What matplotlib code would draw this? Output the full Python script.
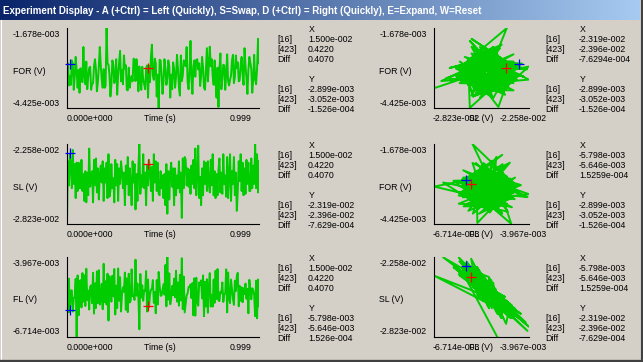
import numpy as np
from matplotlib import pyplot as plt
from matplotlib.colors import LinearSegmentedColormap

W, H = 643, 362
FS = 6.3
FONT = 'Liberation Sans'
GREEN = '#00cc00'

# channel samples (FOR and FL in 1e-5 V, SL in 1e-4 V)
FOR_RAW = [
    -374, -289, -365, -333, -363, -279, -290, -380, -336, -267,
    -314, -373, -312, -390, -306, -341, -354, -233, -331, -361,
    -283, -378, -336, -305, -301, -380, -361, -357, -299, -275,
    -309, -385, -354, -299, -233, -296, -346, -373, -309, -373,
    -367, -168, -289, -294, -328, -403, -363, -279, -293, -357,
    -341, -275, -397, -331, -286, -246, -351, -311, -361, -262,
    -307, -296, -380, -382, -304, -373, -346, -333, -351, -273,
    -277, -350, -275, -309, -385, -300, -344, -380, -301, -346,
    -361, -378, -307, -296, -407, -299, -354, -267, -225, -331,
    -346, -273, -289, -403, -328, -442, -277, -279, -329, -394,
    -351, -275, -307, -363, -340, -279, -299, -407, -328, -378,
    -286, -307, -373, -336, -260, -306, -373, -400, -262, -350,
    -331, -279, -283, -299, -233, -354, -378, -315, -212, -344,
    -394, -299, -279, -335, -277, -275, -310, -289, -367, -333,
    -267, -304, -373, -380, -312, -237, -351, -296, -232, -299,
    -275, -333, -363, -279, -351, -407, -304, -439, -309, -255,
    -378, -344, -294, -296, -380, -328, -258, -351, -365, -346,
    -331, -279, -260, -357, -336, -262, -305, -286, -351, -347,
    -294, -267, -328, -363, -237, -296, -341, -394, -312, -267,
    -286, -309, -390, -344, -260, -345, -361, -307, -205, -289,
]
SL_RAW = [
    -282, -238, -255, -233, -240, -257, -230, -254, -240, -264,
    -239, -259, -239, -257, -257, -237, -259, -247, -266, -245,
    -267, -246, -262, -229, -256, -248, -245, -267, -237, -255,
    -236, -260, -243, -265, -247, -241, -253, -238, -266, -243,
    -253, -239, -264, -233, -263, -259, -240, -257, -250, -267,
    -237, -255, -240, -266, -243, -254, -238, -245, -257, -246,
    -269, -241, -254, -235, -262, -243, -253, -269, -238, -253,
    -240, -272, -247, -266, -242, -226, -261, -248, -256, -233,
    -257, -246, -269, -241, -255, -237, -243, -259, -242, -266,
    -233, -253, -238, -259, -239, -261, -262, -245, -257, -248,
    -264, -247, -269, -240, -275, -245, -265, -247, -239, -256,
    -243, -269, -243, -262, -248, -257, -238, -260, -246, -278,
    -236, -257, -235, -237, -255, -243, -256, -244, -261, -241,
    -254, -237, -257, -229, -262, -247, -227, -264, -249, -269,
    -243, -262, -238, -254, -239, -259, -238, -254, -260, -237,
    -255, -233, -262, -245, -264, -247, -262, -244, -236, -260,
    -246, -261, -233, -254, -248, -263, -235, -264, -247, -233,
    -266, -245, -254, -235, -262, -246, -273, -259, -238, -252,
    -233, -259, -239, -262, -243, -261, -237, -254, -239, -259,
    -259, -236, -257, -241, -254, -226, -257, -233, -260, -238,
]
FL_RAW = [
    -489, -586, -471, -586, -512, -511, -584, -538, -534, -472,
    -671, -460, -597, -485, -476, -570, -452, -550, -460, -565,
    -437, -544, -512, -577, -498, -494, -555, -451, -591, -487,
    -572, -446, -555, -442, -560, -543, -489, -576, -420, -552,
    -480, -560, -454, -615, -463, -510, -550, -461, -532, -438,
    -594, -495, -572, -436, -547, -466, -584, -525, -501, -516,
    -450, -578, -470, -586, -454, -553, -546, -439, -532, -528,
    -544, -406, -530, -488, -532, -645, -455, -536, -494, -547,
    -511, -514, -445, -584, -474, -569, -528, -509, -506, -476,
    -554, -517, -590, -476, -560, -448, -494, -530, -529, -510,
    -490, -526, -424, -566, -397, -543, -453, -559, -537, -496,
    -528, -471, -535, -444, -550, -484, -564, -458, -546, -401,
    -576, -464, -587, -559, -528, -522, -500, -500, -491, -538,
    -486, -597, -470, -598, -468, -549, -564, -484, -493, -477,
    -539, -460, -600, -482, -567, -473, -588, -498, -452, -567,
    -527, -567, -474, -554, -444, -541, -438, -546, -548, -516,
    -520, -484, -551, -526, -520, -439, -587, -450, -538, -555,
    -474, -507, -540, -561, -478, -514, -463, -451, -566, -496,
    -547, -501, -552, -504, -524, -488, -540, -506, -590, -475,
    -506, -542, -504, -510, -528, -600, -478, -607, -474, -566,
]

# axis end labels (these are also the axis limits)
FOR_TICKS = ['-1.678e-003', '-4.425e-003']
SL_TICKS = ['-2.258e-002', '-2.823e-002']
FL_TICKS = ['-3.967e-003', '-6.714e-003']
T_TICKS = ['0.000e+000', '0.999']

# cursor samples [16] and [423]
CUR_T = [0.015, 0.422]
FOR_CUR = [-2.899e-3, -3.052e-3]
SL_CUR = [-2.319e-2, -2.396e-2]
FL_CUR = [-5.798e-3, -5.646e-3]

# readout texts
TIME_INFO = ['1.500e-002', '0.4220', '0.4070']
FOR_INFO = ['-2.899e-003', '-3.052e-003', '-1.526e-004']
SL_INFO = ['-2.319e-002', '-2.396e-002', '-7.629e-004']
FL_INFO = ['-5.798e-003', '-5.646e-003', '1.526e-004']
SL_XINFO = ['-2.319e-002', '-2.396e-002', '-7.6294e-004']
FL_XINFO = ['-5.798e-003', '-5.646e-003', '1.5259e-004']

TITLE = 'Experiment Display - A (+Ctrl) = Left (Quickly), S=Swap, D (+Ctrl) = Right (Quickly), E=Expand, W=Reset'

for_v = np.array(FOR_RAW) * 1e-5
sl_v = np.array(SL_RAW) * 1e-4
fl_v = np.array(FL_RAW) * 1e-5
t = np.linspace(0, 0.999, len(FOR_RAW))

channels = {
    'FOR': (for_v, FOR_TICKS, FOR_CUR, FOR_INFO),
    'SL': (sl_v, SL_TICKS, SL_CUR, SL_INFO),
    'FL': (fl_v, FL_TICKS, FL_CUR, FL_INFO),
}

fig = plt.figure(figsize=(W / 100, H / 100), dpi=100)
fig.patch.set_facecolor('#d4d0c8')
bg = fig.add_axes([0, 0, 1, 1])
bg.axis('off')

# title bar gradient
grad = np.linspace(0, 1, 256).reshape(1, -1)
cmap = LinearSegmentedColormap.from_list('tb', ['#0a246a', '#a6caf0'])
bg.imshow(grad, extent=[0, 640, 20, 0], aspect='auto', cmap=cmap, interpolation='bilinear')
bg.set_xlim(0, W)
bg.set_ylim(H, 0)
bg.text(3, 11, TITLE, color='white', fontsize=7.0, fontweight='bold', family=FONT,
        ha='left', va='center')

# window border
bg.plot([0.5, 0.5], [20, H], color='white', lw=0.8)
bg.plot([641.5, 641.5], [0, H], color='#404040', lw=1.5)
bg.plot([0, W], [359.5, 359.5], color='#808080', lw=1)
bg.plot([0, W], [361, 361], color='#404040', lw=1.5)


def txt(x, y, s, ha='left'):
    bg.text(x, y, s, ha=ha, va='center', fontsize=FS, family=FONT, color='black')


def box(x0, y0, x1, y1):
    ax = fig.add_axes([x0 / W, 1 - y1 / H, (x1 - x0) / W, (y1 - y0) / H])
    ax.set_facecolor('none')
    for side in ['top', 'right']:
        ax.spines[side].set_visible(False)
    for side in ['left', 'bottom']:
        ax.spines[side].set_color('black')
        ax.spines[side].set_linewidth(0.8)
    ax.set_xticks([])
    ax.set_yticks([])
    return ax


def info(x_lbl, x_val, top, xinfo, yinfo):
    txt(x_val + 1, top + 1.5, 'X')
    txt(x_val + 1, top + 51.5, 'Y')
    for i, name in enumerate(['[16]', '[423]', 'Diff']):
        txt(x_lbl, top + 11.5 + 10 * i, name)
        txt(x_val, top + 11.5 + 10 * i, xinfo[i])
        txt(x_lbl, top + 61.5 + 10 * i, name)
        txt(x_val, top + 61.5 + 10 * i, yinfo[i])


def cursors(ax, xs, ys):
    ax.plot(xs[0], ys[0], marker='+', color='#0000ff', ms=7.5, mew=0.9, clip_on=False, zorder=5)
    ax.plot(xs[1], ys[1], marker='+', color='#ff0000', ms=7.5, mew=0.9, clip_on=False, zorder=5)


tops = [28, 144, 257]
left_rows = ['FOR', 'SL', 'FL']
right_rows = [('SL', 'FOR', SL_XINFO), ('FL', 'FOR', FL_XINFO), ('FL', 'SL', FL_XINFO)]

for k in range(3):
    top = tops[k]
    bot = top + 80

    # left: channel against time
    name = left_rows[k]
    vals, ticks, cur, yinfo = channels[name]
    ax = box(67, top, 259, bot)
    ax.plot(t, vals, color=GREEN, lw=1.4)
    ax.set_xlim(0, 0.999)
    ax.set_ylim(float(ticks[1]), float(ticks[0]))
    cursors(ax, CUR_T, cur)
    txt(60, top + 6.5, ticks[0], ha='right')
    txt(60, bot - 5, ticks[1], ha='right')
    txt(13, (top + bot) / 2 + 3, name + ' (V)')
    txt(67, bot + 10.5, T_TICKS[0])
    txt(160, bot + 10.5, 'Time (s)', ha='center')
    txt(251, bot + 10.5, T_TICKS[1], ha='right')
    info(277, 308, top, TIME_INFO, yinfo)

    # right: channel against channel (thicker trace so the cloud reads as a blob)
    xname, yname, xinfo = right_rows[k]
    xv, xticks, xcur, _ = channels[xname]
    yv, yticks, ycur, yinfo = channels[yname]
    ax = box(434, top, 529, bot)
    ax.plot(xv, yv, color=GREEN, lw=1.4, solid_joinstyle='round')
    ax.set_xlim(float(xticks[1]), float(xticks[0]))
    ax.set_ylim(float(yticks[1]), float(yticks[0]))
    cursors(ax, xcur, ycur)
    txt(427, top + 6.5, yticks[0], ha='right')
    txt(427, bot - 5, yticks[1], ha='right')
    txt(379, (top + bot) / 2 + 3, yname + ' (V)')
    txt(433, bot + 10.5, xticks[1])
    txt(481, bot + 10.5, xname + ' (V)', ha='center')
    txt(547, bot + 10.5, xticks[0], ha='right')
    info(545, 579, top, xinfo, yinfo)

fig.savefig('out.png', dpi=100, facecolor=fig.get_facecolor())
